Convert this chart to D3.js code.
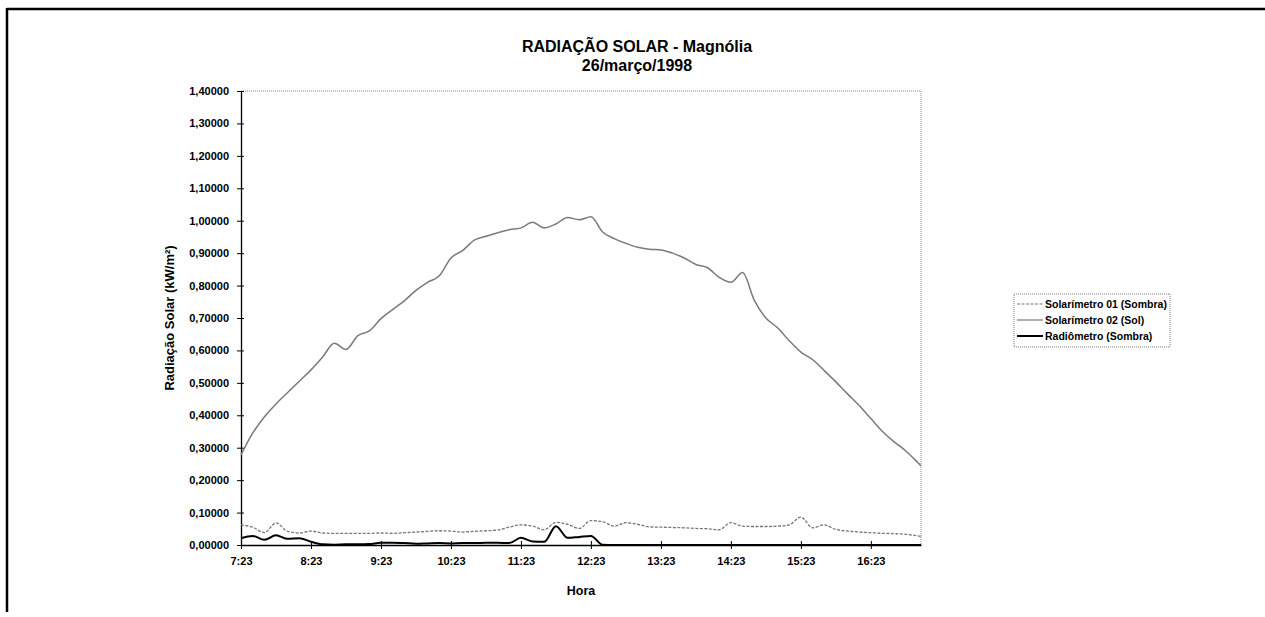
<!DOCTYPE html>
<html><head><meta charset="utf-8">
<script src="https://cdn.jsdelivr.net/npm/d3@7"></script>
<style>
body{margin:0;background:#fff;}
text{font-family:"Liberation Sans",Arial,sans-serif;}
</style></head><body>
<svg id="chart" width="1265" height="617"></svg>
<script>
// ---- data ----
const times = ["7:23","7:33","7:43","7:53","8:03","8:13","8:23","8:33","8:43","8:53",
  "9:03","9:13","9:23","9:33","9:43","9:53","10:03","10:13","10:23","10:33",
  "10:43","10:53","11:03","11:13","11:23","11:33","11:43","11:53","12:03","12:13",
  "12:23","12:33","12:43","12:53","13:03","13:13","13:23","13:33","13:43","13:53",
  "14:03","14:13","14:23","14:33","14:43","14:53","15:03","15:13","15:23","15:33",
  "15:43","15:53","16:03","16:13","16:23","16:33","16:43","16:53","17:03","17:06"];
const solarimetro02Sol = [
  0.278,0.345,0.395,0.435,0.470,0.505,0.540,0.580,0.622,0.603,
  0.645,0.660,0.698,0.726,0.753,0.785,0.810,0.830,0.885,0.908,
  0.940,0.952,0.963,0.972,0.978,0.995,0.978,0.990,1.010,1.003,
  1.012,0.965,0.945,0.930,0.918,0.912,0.910,0.900,0.885,0.865,
  0.855,0.825,0.810,0.840,0.755,0.700,0.670,0.630,0.595,0.572,
  0.538,0.503,0.466,0.430,0.390,0.350,0.318,0.290,0.255,0.244];
const solarimetro01Sombra = [
  0.062,0.055,0.038,0.068,0.042,0.037,0.043,0.037,0.036,0.036,
  0.036,0.036,0.037,0.036,0.038,0.040,0.042,0.044,0.043,0.040,
  0.042,0.044,0.046,0.055,0.062,0.058,0.047,0.070,0.064,0.051,
  0.075,0.072,0.058,0.069,0.064,0.056,0.055,0.054,0.053,0.051,
  0.050,0.047,0.069,0.058,0.057,0.057,0.058,0.062,0.086,0.053,
  0.062,0.048,0.043,0.040,0.038,0.036,0.035,0.033,0.028,0.026];
const radiometroSombra = [
  0.021,0.028,0.016,0.030,0.019,0.021,0.010,0.002,0.001,0.002,
  0.002,0.003,0.007,0.007,0.006,0.004,0.005,0.006,0.005,0.006,
  0.006,0.007,0.007,0.006,0.022,0.011,0.010,0.058,0.022,0.025,
  0.028,0.001,0,0,0,0,0,0,0,0,
  0,0,0,0,0,0,0,0,0,0,
  0,0,0,0,0,0,0,0,0,0];
const xTickLabels = ["7:23","8:23","9:23","10:23","11:23","12:23","13:23","14:23","15:23","16:23"];
const yTicks = [0,0.1,0.2,0.3,0.4,0.5,0.6,0.7,0.8,0.9,1.0,1.1,1.2,1.3,1.4];
const seriesNames = ["Solarímetro 01 (Sombra)","Solarímetro 02 (Sol)","Radiômetro (Sombra)"];
const titleLines = ["RADIAÇÃO SOLAR - Magnólia","26/março/1998"];

// ---- helpers ----
const toMin = s => { const [h,m] = s.split(":").map(Number); return h*60+m - (7*60+23); };
const locale = d3.formatLocale({decimal:",", thousands:".", grouping:[3], currency:["",""]});
const fmt = locale.format(".5f");

const svg = d3.select("#chart");
const L = 241, R = 921, T = 91, B = 545;
const x = d3.scaleLinear().domain([0, toMin(times[times.length-1])]).range([L, R]);
const y = d3.scaleLinear().domain([0, 1.4]).range([B, T]);

// outer frame (top + left)
svg.append("line").attr("x1",7).attr("x2",1265).attr("y1",9).attr("y2",9).attr("stroke","#000").attr("stroke-width",2.5);
svg.append("line").attr("x1",7).attr("x2",7).attr("y1",8).attr("y2",612).attr("stroke","#000").attr("stroke-width",2.5);

// plot area border (dotted top/right)
svg.append("path").attr("d",`M${L},${T}H${R}V${B}`).attr("fill","none")
  .attr("stroke","#888").attr("stroke-width",1).attr("stroke-dasharray","1,1");

// titles
const tg = svg.append("g").attr("text-anchor","middle").style("font-weight","bold").style("font-size","16px");
tg.append("text").attr("x",637).attr("y",52).text(titleLines[0]);
tg.append("text").attr("x",637).attr("y",71).text(titleLines[1]);

// y axis
const yAxis = svg.append("g").attr("transform",`translate(${L},0)`)
  .call(d3.axisLeft(y).tickValues(yTicks).tickFormat(fmt).tickSizeInner(4).tickSizeOuter(0).tickPadding(8));
svg.append("g").attr("transform",`translate(${L},0)`)
  .call(d3.axisRight(y).tickValues(yTicks).tickFormat("").tickSizeInner(3).tickSizeOuter(0))
  .select(".domain").remove();
yAxis.selectAll("text").style("font-size","11px").style("font-weight","bold").style("font-family","'Liberation Sans',Arial,sans-serif");

// x axis
const xTickVals = xTickLabels.map(toMin);
const xAxis = svg.append("g").attr("transform",`translate(0,${B})`)
  .call(d3.axisBottom(x).tickValues(xTickVals).tickFormat((d,i)=>xTickLabels[i]).tickSizeInner(4).tickSizeOuter(0).tickPadding(8));
svg.append("g").attr("transform",`translate(0,${B})`)
  .call(d3.axisTop(x).tickValues(xTickVals).tickFormat("").tickSizeInner(4).tickSizeOuter(0))
  .select(".domain").remove();
xAxis.selectAll("text").style("font-size","11px").style("font-weight","bold").style("font-family","'Liberation Sans',Arial,sans-serif");
svg.selectAll(".domain").attr("stroke","#000").attr("stroke-width",1.3);

// axis titles
svg.append("text").attr("x",(L+R)/2).attr("y",595).attr("text-anchor","middle")
  .style("font-weight","bold").style("font-size","12.5px").text("Hora");
svg.append("text").attr("transform",`translate(174,${(T+B)/2}) rotate(-90)`).attr("text-anchor","middle")
  .style("font-weight","bold").style("font-size","13px").text("Radiação Solar (kW/m²)");

// lines
const tm = times.map(toMin);
const styles = [
  {data: solarimetro01Sombra, stroke:"#777", width:1.3, dash:"3,1.5"},
  {data: solarimetro02Sol, stroke:"#7a7a7a", width:1.5, dash:null},
  {data: radiometroSombra, stroke:"#000", width:2, dash:null}
];
const line = d3.line().x(d=>x(d[0])).y(d=>y(d[1])).curve(d3.curveMonotoneX);
styles.forEach(s=>{
  svg.append("path").datum(tm.map((t,i)=>[t,s.data[i]]))
    .attr("fill","none").attr("stroke",s.stroke).attr("stroke-width",s.width)
    .attr("stroke-dasharray",s.dash).attr("d",line);
});

// legend
const lg = svg.append("g").attr("transform","translate(1014,294)");
lg.append("rect").attr("x",0).attr("y",0).attr("width",156).attr("height",53)
  .attr("fill","#fff").attr("stroke","#777").attr("stroke-width",1).attr("stroke-dasharray","1,1");
seriesNames.forEach((n,i)=>{
  const yy = 10 + i*16;
  lg.append("line").attr("x1",3).attr("x2",29).attr("y1",yy).attr("y2",yy)
    .attr("stroke",styles[i].stroke).attr("stroke-width",styles[i].width===2?2:1.2)
    .attr("stroke-dasharray",styles[i].dash);
  lg.append("text").attr("x",31).attr("y",yy+4).style("font-size","10.5px").style("font-weight","bold").text(n);
});
</script>
</body></html>
